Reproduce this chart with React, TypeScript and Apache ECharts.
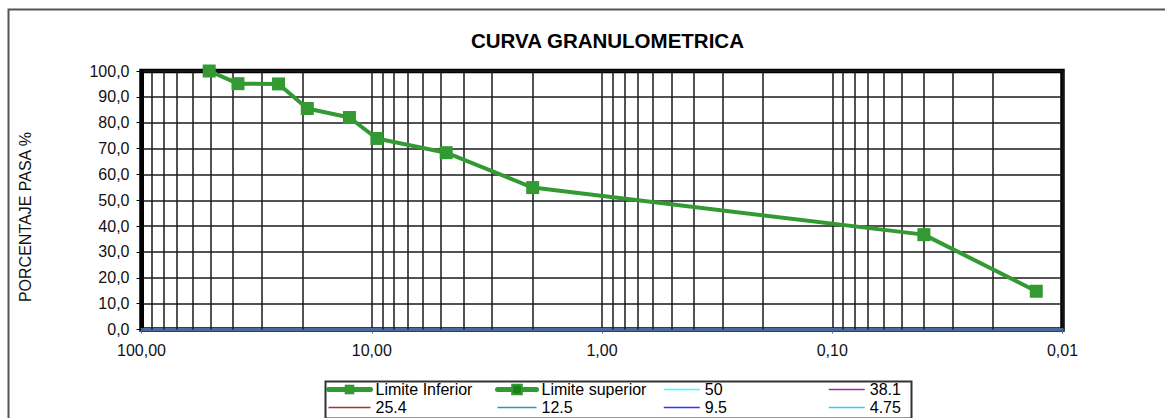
import React, { useEffect, useRef } from "react";
import * as echarts from "echarts";

const FONT = "'Liberation Sans', Arial, sans-serif";

const titleText = "CURVA GRANULOMETRICA";
const yAxisName = "PORCENTAJE PASA %";

// sieve openings (mm) and percent passing
const sieveSizes = [50.8, 38.1, 25.4, 19.05, 12.5, 9.5, 4.75, 2.0, 0.04, 0.013];
const percentPassing = [100.0, 95.1, 95.0, 85.5, 82.0, 73.9, 68.4, 54.9, 36.7, 14.8];

const seriesNames = ["Limite Inferior", "Limite superior", "50", "38.1", "25.4", "12.5", "9.5", "4.75"];
const seriesColors = ["#339933", "#339933", "#33ffff", "#993399", "#aa3333", "#339999", "#3333ff", "#33ccff"];

const xMin = 0.01;
const xMax = 100;
const yMin = 0;
const yMax = 100;
const yInterval = 10;

// minor log gridlines (decades x multipliers)
const gridDecades = [0.01, 0.1, 1, 10];
const gridMultipliers = [2, 3, 4, 5, 6, 7, 8, 9];

const legendColumns = [
  { names: ["Limite Inferior", "25.4"], left: 326, itemWidth: 42 },
  { names: ["Limite superior", "12.5"], left: 495, itemWidth: 39 },
  { names: ["50", "9.5"], left: 663, itemWidth: 36 },
  { names: ["38.1", "4.75"], left: 828, itemWidth: 36 },
];

export default function App() {
  const ref = useRef<HTMLDivElement>(null);

  useEffect(() => {
    if (!ref.current) return;
    const chart = echarts.init(ref.current, undefined, { renderer: "svg" });

    const minorLines: any[] = [];
    gridDecades.forEach((d) => gridMultipliers.forEach((m) => minorLines.push({ xAxis: d * m })));

    const mainData = sieveSizes.map((s, i) => [s, percentPassing[i]]);

    const series: any[] = seriesNames.map((name, i) => {
      const isGreen = i < 2;
      const s: any = {
        name,
        type: "line",
        data: i === 0 ? mainData : [],
        symbol: isGreen ? "rect" : "none",
        symbolSize: 13,
        z: 5,
        lineStyle: { color: seriesColors[i], width: isGreen ? 4 : 2 },
        itemStyle: { color: i === 1 ? "#1a801a" : seriesColors[i], borderColor: seriesColors[i], borderWidth: i === 1 ? 2 : 0 },
      };
      if (i === 0) {
        s.markLine = {
          silent: true,
          symbol: ["none", "none"],
          label: { show: false },
          animation: false,
          z: 1,
          lineStyle: { color: "#1a1a1a", width: 1.5, type: "solid" },
          data: minorLines,
        };
      }
      return s;
    });

    const legendItem = (name: string) => {
      const i = seriesNames.indexOf(name);
      if (i < 2) {
        return { name, lineStyle: { width: 5, cap: "round", color: seriesColors[i] } };
      }
      return { name, itemStyle: { opacity: 0 }, lineStyle: { width: 1.5, color: seriesColors[i] } };
    };

    chart.setOption({
      animation: false,
      backgroundColor: "#ffffff",
      textStyle: { fontFamily: FONT },
      title: {
        text: titleText,
        left: 466,
        top: 25,
        textStyle: { fontFamily: FONT, fontSize: 20.5, fontWeight: "bold", color: "#000" },
      },
      grid: {
        left: 141.5,
        right: 102.5,
        top: 71,
        bottom: 88.5,
        show: true,
        borderColor: "#000",
        borderWidth: 4.5,
        backgroundColor: "transparent",
      },
      xAxis: {
        type: "log",
        logBase: 10,
        min: xMin,
        max: xMax,
        inverse: true,
        axisLine: { show: true, onZero: false, lineStyle: { color: "#4a6a9a", width: 3 } },
        axisTick: { show: true, length: 4, lineStyle: { color: "#4a6a9a", width: 1 } },
        axisLabel: {
          fontFamily: FONT,
          fontSize: 16,
          color: "#111",
          margin: 13,
          formatter: (v: number) => v.toFixed(2).replace(".", ","),
        },
        splitLine: { show: true, lineStyle: { color: "#1a1a1a", width: 1.5 } },
        minorTick: { show: false },
        minorSplitLine: { show: false },
      },
      yAxis: {
        type: "value",
        min: yMin,
        max: yMax,
        interval: yInterval,
        axisLine: { show: true, lineStyle: { color: "#000", width: 4 } },
        axisTick: { show: true, length: 5, lineStyle: { color: "#000", width: 1 } },
        axisLabel: {
          fontFamily: FONT,
          fontSize: 16,
          color: "#111",
          margin: 12,
          formatter: (v: number) => v.toFixed(1).replace(".", ","),
        },
        splitLine: { show: true, lineStyle: { color: "#1a1a1a", width: 1.5 } },
      },
      legend: legendColumns.map((c) => ({
        data: c.names.map(legendItem),
        orient: "vertical",
        left: c.left,
        top: 381,
        padding: 0,
        itemGap: 1,
        itemWidth: c.itemWidth,
        itemHeight: 12,
        selectedMode: false,
        textStyle: { fontFamily: FONT, fontSize: 16, color: "#000", lineHeight: 17 },
      })),
      graphic: [
        {
          type: "rect",
          left: 6,
          top: 7,
          shape: { x: 0, y: 0, width: 1250, height: 500 },
          style: { fill: "none", stroke: "#555", lineWidth: 2 },
          silent: true,
          z: -10,
        },
        {
          type: "rect",
          left: 323,
          top: 379,
          shape: { x: 0, y: 0, width: 586, height: 37 },
          style: { fill: "none", stroke: "#333", lineWidth: 2 },
          silent: true,
        },
        {
          type: "text",
          x: 25,
          y: 217,
          rotation: Math.PI / 2,
          silent: true,
          style: {
            text: yAxisName,
            fontFamily: FONT,
            fontSize: 16,
            fill: "#111",
            align: "center",
            verticalAlign: "middle",
          },
        },
      ],
      series,
    });

    return () => chart.dispose();
  }, []);

  return (
    <div
      ref={ref}
      style={{ position: "absolute", left: 0, top: 0, width: 1165, height: 418 }}
    />
  );
}
